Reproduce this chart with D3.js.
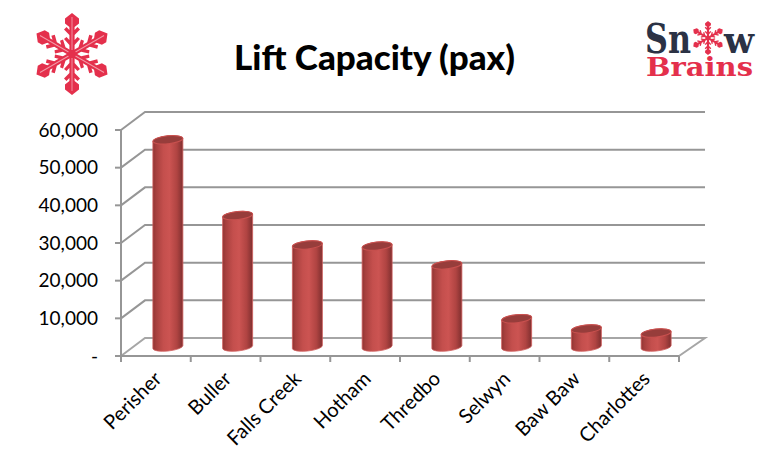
<!DOCTYPE html>
<html><head><meta charset="utf-8">
<script src="https://cdn.jsdelivr.net/npm/d3@7"></script>
<style>html,body{margin:0;padding:0;background:#fff}svg{display:block}</style>
</head><body><svg id="c" width="759" height="468"></svg>
<script>
const categories = ["Perisher","Buller","Falls Creek","Hotham","Thredbo","Selwyn","Baw Baw","Charlottes"];
const capacity = [55000,34900,27100,26800,21800,7500,4800,3700];
const yTicks = [0,10000,20000,30000,40000,50000,60000];
const titleText = "Lift Capacity (pax)";

const svg = d3.select("#c");
const W = {x0:121,x1:679,y0:356,y1:130,dx:24,dy:-18};
const x = d3.scaleBand().domain(categories).range([W.x0,W.x1]);
const y = d3.scaleLinear().domain([0,60000]).range([W.y0,W.y1]);
const grid = "#969696";
const defs = svg.append("defs");
const side = defs.append("linearGradient").attr("id","side").attr("x1",0).attr("x2",1).attr("y1",0).attr("y2",0);
[[0,"#8f3432"],[0.1,"#a63f3d"],[0.35,"#c44f4d"],[0.55,"#cc5452"],[0.8,"#b04442"],[1,"#7f2f2f"]].forEach(s=>side.append("stop").attr("offset",s[0]).attr("stop-color",s[1]));

const gGrid = svg.append("g").attr("fill","none").attr("stroke",grid).attr("stroke-width",2);
yTicks.forEach(t=>{
  if(t>0) gGrid.append("path").attr("d",`M${W.x0},${y(t)}L${W.x0+W.dx},${y(t)+W.dy}H${W.x1+26}`);
});
gGrid.append("path").attr("stroke","#a6a6a6").attr("d",`M${W.x0},${y(0)}L${W.x0+W.dx},${y(0)+W.dy}H${W.x1+26}L${W.x1},${y(0)}`);
const gAxis = svg.append("g").attr("fill","none").attr("stroke",grid).attr("stroke-width",2);
gAxis.append("path").attr("d",`M${W.x0},${W.y1}V${W.y0}H${W.x1}`);
yTicks.forEach(t=>gAxis.append("path").attr("d",`M${W.x0-6},${y(t)}H${W.x0}`));
categories.concat(["_end"]).forEach((c,i)=>{
  const px = i<categories.length ? x(c) : W.x1;
  gAxis.append("path").attr("d",`M${px},${W.y0}V${W.y0+6}`);
});

// tilted cylinders
const rx = 15, ry = 4, tilt = -6, dyEnd = 1.5;
const gBars = svg.append("g");
categories.forEach((c,i)=>{
  const cx = x(c)+x.bandwidth()/2+12, base = y(0)-9, top = base-(y(0)-y(capacity[i]));
  gBars.append("path").attr("fill","url(#side)").attr("stroke","#d0605e").attr("stroke-width",0.8)
    .attr("d",`M${cx-rx},${top+dyEnd}V${base+dyEnd}A${rx},${ry} ${tilt} 0 0 ${cx+rx},${base-dyEnd}V${top-dyEnd}A${rx},${ry} ${tilt} 0 0 ${cx-rx},${top+dyEnd}Z`);
  gBars.append("ellipse").attr("cx",0).attr("cy",0).attr("rx",rx).attr("ry",ry)
    .attr("transform",`translate(${cx},${top}) rotate(${tilt})`)
    .attr("fill","#973d3b").attr("stroke","#c9514f").attr("stroke-width",1);
});

const font = "Lato, 'Open Sans', sans-serif";
const fmt = d3.format(",");
svg.append("g").selectAll("text").data(yTicks).join("text")
  .attr("x",98).attr("y",d=>y(d)+6.5).attr("text-anchor","end")
  .attr("font-family",font).attr("font-size",19).attr("fill","#000")
  .text(d=>d===0?"-":fmt(d));
svg.append("g").selectAll("text").data(categories).join("text")
  .attr("text-anchor","end").attr("font-family",font).attr("font-size",20).attr("fill","#000")
  .attr("transform",d=>`translate(${x(d)+x.bandwidth()/2+7},${W.y0+24}) rotate(-45)`)
  .text(d=>d);
svg.append("text").attr("x",374.5).attr("y",70).attr("text-anchor","middle")
  .attr("font-family",font).attr("font-weight",900).attr("font-size",35).attr("fill","#000").text(titleText);

function flake(g,cx,cy,r,col,vein){
  const h = g.append("g").attr("transform",`translate(${cx},${cy})`);
  d3.range(6).forEach(k=>{
    const a = h.append("g").attr("transform",`rotate(${k*60}) scale(${r/41})`);
    a.append("path").attr("fill",col).attr("d","M-2.6,0V-9L-8,-15L-5.5,-17L-2.6,-14V-19L-8,-24.5L-5.5,-27L-2.6,-24V-27L-7,-30.5V-35.5L0,-41L7,-35.5V-30.5L2.6,-27V-24L5.5,-27L8,-24.5L2.6,-19V-14L5.5,-17L8,-15L2.6,-9V0Z");
    if(vein) a.append("path").attr("stroke","#f39aa8").attr("stroke-width",0.9).attr("d","M0,-4V-37");
  });
  h.append("circle").attr("r",r*0.09).attr("fill",col);
}
flake(svg.append("g"),72,54,41,"#e4304c",true);
const logoFont = "'DejaVu Serif', serif";
const logo = svg.append("g").attr("font-family",logoFont).attr("font-weight",700);
logo.append("text").attr("x",645).attr("y",53).attr("font-size",41).attr("fill","#2b3245").attr("textLength",46).attr("lengthAdjust","spacingAndGlyphs").text("Sn");
logo.append("text").attr("x",724).attr("y",53).attr("font-size",38).attr("fill","#2b3245").attr("textLength",30).attr("lengthAdjust","spacingAndGlyphs").text("w");
flake(svg.append("g"),708,38,17,"#e4304c",false);
logo.append("text").attr("x",646).attr("y",76).attr("font-size",26).attr("fill","#e4304c").attr("textLength",107).attr("lengthAdjust","spacingAndGlyphs").text("Brains");
</script></body></html>
